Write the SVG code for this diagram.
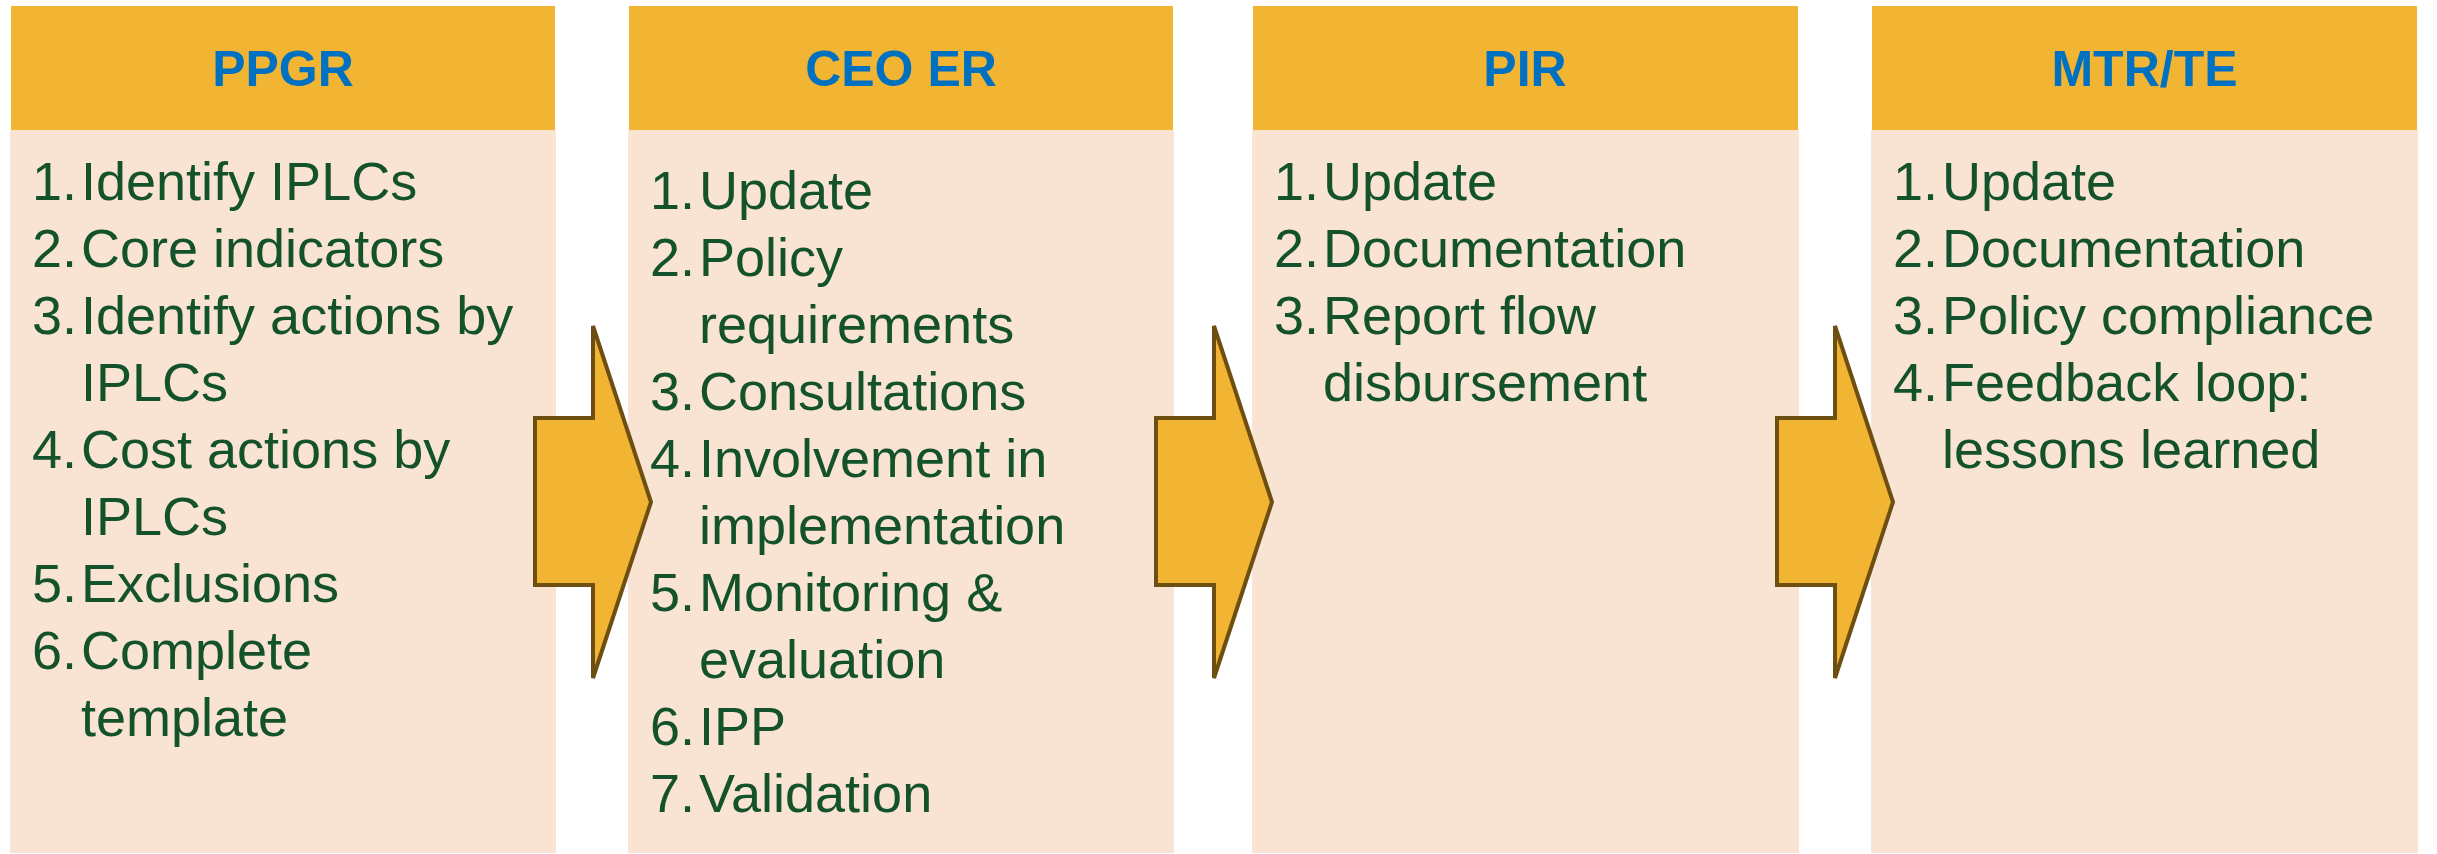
<svg xmlns="http://www.w3.org/2000/svg" width="2437" height="854" viewBox="0 0 2437 854">
<style>
.hd{fill:#F2B433}
.bd{fill:#F9E4D3}
.ht{font-family:"Liberation Sans",Arial,sans-serif;font-weight:bold;font-size:50px;fill:#0070C0;text-anchor:middle}
.t{font-family:"Liberation Sans",Arial,sans-serif;font-size:54px;fill:#13522A}
.ar{fill:#F2B433;stroke:#6E4F12;stroke-width:4;stroke-linejoin:miter}
</style>
<rect width="2437" height="854" fill="#FFFFFF"/>
<g id="node-ppgr">
<rect class="bd" x="10" y="130" width="546" height="723"/>
<rect class="hd" x="11" y="6" width="544" height="124"/>
<text class="ht" x="283" y="86">PPGR</text>
<text class="t"><tspan x="32" y="200">1.</tspan><tspan x="81" y="200">Identify IPLCs</tspan>
<tspan x="32" y="267">2.</tspan><tspan x="81" y="267">Core indicators</tspan>
<tspan x="32" y="334">3.</tspan><tspan x="81" y="334">Identify actions by</tspan>
<tspan x="81" y="401">IPLCs</tspan>
<tspan x="32" y="468">4.</tspan><tspan x="81" y="468">Cost actions by</tspan>
<tspan x="81" y="535">IPLCs</tspan>
<tspan x="32" y="602">5.</tspan><tspan x="81" y="602">Exclusions</tspan>
<tspan x="32" y="669">6.</tspan><tspan x="81" y="669">Complete</tspan>
<tspan x="81" y="736">template</tspan></text>
</g>
<g id="node-ceo-er">
<rect class="bd" x="628" y="130" width="546" height="723"/>
<rect class="hd" x="629" y="6" width="544" height="124"/>
<text class="ht" x="901" y="86">CEO ER</text>
<text class="t"><tspan x="650" y="209">1.</tspan><tspan x="699" y="209">Update</tspan>
<tspan x="650" y="276">2.</tspan><tspan x="699" y="276">Policy</tspan>
<tspan x="699" y="343">requirements</tspan>
<tspan x="650" y="410">3.</tspan><tspan x="699" y="410">Consultations</tspan>
<tspan x="650" y="477">4.</tspan><tspan x="699" y="477">Involvement in</tspan>
<tspan x="699" y="544">implementation</tspan>
<tspan x="650" y="611">5.</tspan><tspan x="699" y="611">Monitoring &amp;</tspan>
<tspan x="699" y="678">evaluation</tspan>
<tspan x="650" y="745">6.</tspan><tspan x="699" y="745">IPP</tspan>
<tspan x="650" y="812">7.</tspan><tspan x="699" y="812">Validation</tspan></text>
</g>
<g id="node-pir">
<rect class="bd" x="1252" y="130" width="547" height="723"/>
<rect class="hd" x="1253" y="6" width="545" height="124"/>
<text class="ht" x="1525" y="86">PIR</text>
<text class="t"><tspan x="1274" y="200">1.</tspan><tspan x="1323" y="200">Update</tspan>
<tspan x="1274" y="267">2.</tspan><tspan x="1323" y="267">Documentation</tspan>
<tspan x="1274" y="334">3.</tspan><tspan x="1323" y="334">Report flow</tspan>
<tspan x="1323" y="401">disbursement</tspan></text>
</g>
<g id="node-mtr-te">
<rect class="bd" x="1871" y="130" width="547" height="723"/>
<rect class="hd" x="1872" y="6" width="545" height="124"/>
<text class="ht" x="2144.5" y="86">MTR/TE</text>
<text class="t"><tspan x="1893" y="200">1.</tspan><tspan x="1942" y="200">Update</tspan>
<tspan x="1893" y="267">2.</tspan><tspan x="1942" y="267">Documentation</tspan>
<tspan x="1893" y="334">3.</tspan><tspan x="1942" y="334">Policy compliance</tspan>
<tspan x="1893" y="401">4.</tspan><tspan x="1942" y="401">Feedback loop:</tspan>
<tspan x="1942" y="468">lessons learned</tspan></text>
</g>
<g id="connectors">
<path class="ar" d="M535,418 H593 V326 L651,502 L593,678 V585 H535 Z"/>
<path class="ar" d="M1156,418 H1214 V326 L1272,502 L1214,678 V585 H1156 Z"/>
<path class="ar" d="M1777,418 H1835 V326 L1893,502 L1835,678 V585 H1777 Z"/>
</g>
</svg>
